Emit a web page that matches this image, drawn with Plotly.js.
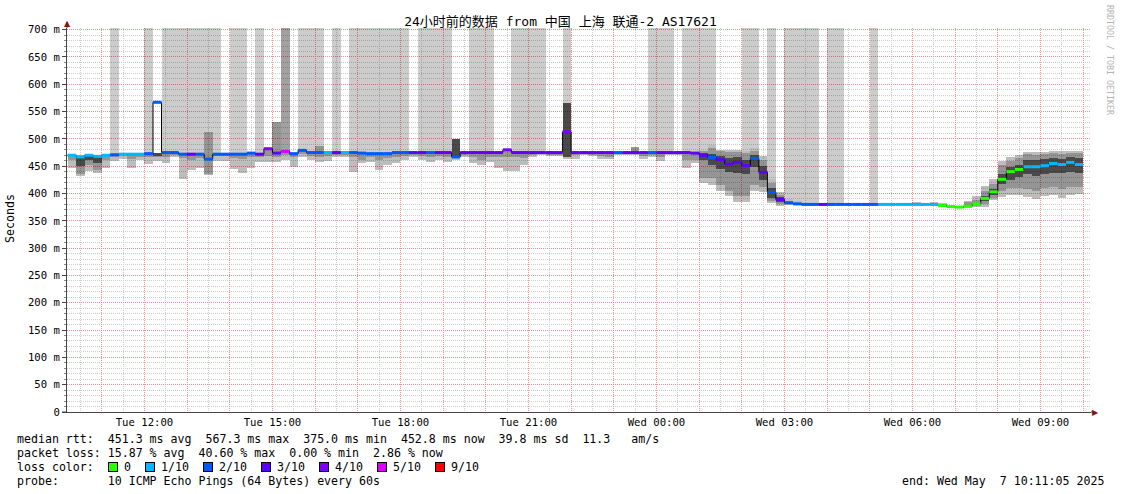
<!DOCTYPE html>
<html><head><meta charset="utf-8">
<script src="https://cdn.plot.ly/plotly-3.0.1.min.js"></script>
<style>html,body{margin:0;padding:0;background:#fff}#chart{width:1121px;height:494px}</style>
</head><body><div id="chart"></div>
<script>
// ---------------- data ----------------
const stepStartHour = 10.2;          // first RRD step starts Tue 10:12 (hours since Tue 00:00)
const stepHours = 0.2;               // 12-minute consolidation steps
const rangeStartHour = 10 + 11/60 + 5/3600;   // Tue 10:11:05
const rangeHours = 24;
const yMax = 703;

const median = [
 470,467,470,468,470,471,472,472,472,473,
 567,475,475,472,472,472,463,472,472,472,
 472,474,472,482,474,477,473,479,475,475,
 475,475,475,475,474,473,473,473,475,475,
 475,475,475,475,475,467,475,475,475,475,
 475,480,475,475,475,475,475,475,513,475,
 475,475,475,475,475,475,475,475,475,475,
 475,475,475,474,470,466,462,454,457,451,
 464,439,402,389,383,381,380,380,380,380,
 380,380,380,380,380,380,380,380,380,380,
 380,380,378,376,375,377,381,391,403,426,
 440,444,449,449,451,455,453,457,453];

const lossCount = [
 1,1,1,1,1,2,1,1,1,2,
 2,2,2,2,3,2,2,2,2,2,
 2,2,3,4,3,5,2,2,2,2,
 1,3,1,2,2,2,2,2,2,2,
 3,3,2,3,3,2,3,3,3,3,
 3,4,3,3,3,3,3,3,4,3,
 3,3,3,3,2,3,3,3,2,3,
 3,3,3,3,3,2,3,3,3,3,
 2,3,2,3,2,2,2,2,3,2,
 2,2,2,2,2,1,1,1,1,1,
 1,1,0,0,0,0,0,0,0,0,
 0,0,1,1,1,1,1,1,1];

// 1 = lost pings drawn up to the top, 2 = heavier loss (darker)
const fullBar = [
 0,0,0,0,0,1,0,0,0,1,
 0,1,1,1,1,1,1,1,0,1,
 1,0,1,0,0,2,0,1,1,1,
 0,1,0,1,1,1,1,1,1,1,
 0,1,1,1,1,0,0,1,1,1,
 0,0,1,1,1,1,0,0,1,0,
 0,0,0,0,0,0,0,0,1,1,
 1,0,1,1,1,1,0,0,0,1,
 1,0,1,0,1,1,1,1,0,1,
 1,0,0,0,1,0,0,0,0,0,
 0,0,0,0,0,0,0,0,0,0,
 0,0,0,0,0,0,0,0,0];

const smokeLo = [
 446,432,441,437,446,460,464,447,461,454,
 460,455,467,426,443,447,434,460,460,444,
 437,446,458,458,458,462,449,467,461,458,
 459,467,467,440,455,458,443,452,455,462,
 467,461,458,462,458,462,467,455,453,458,
 447,442,442,452,467,470,469,469,464,464,
 470,469,463,463,470,470,470,463,466,460,
 470,470,446,455,420,415,404,395,384,384,
 404,403,382,378,379,379,379,379,379,379,
 379,379,379,379,379,379,379,379,379,379,
 379,378,376,374,374,374,375,376,388,393,
 398,398,393,390,395,398,392,398,400];

const smokeHi = [
 471,470,471,470,471,472,473,473,473,474,
 475,476,476,473,473,473,512,473,473,473,
 473,475,473,482,531,478,474,480,476,487,
 476,476,476,476,475,474,474,474,476,476,
 476,476,476,476,476,500,476,476,476,476,
 476,482,476,476,476,476,476,476,566,476,
 476,476,476,476,476,476,485,476,476,476,
 476,476,476,475,478,489,480,480,480,478,
 483,468,426,402,390,386,383,383,381,381,
 381,381,381,381,381,381,381,381,381,384,
 381,384,382,378,377,387,395,413,427,460,
 466,470,476,476,476,478,477,478,478];

const midLo = [
 461,436,452,443,462,466,468,463,467,466,
 466,467,470,465,462,465,435,468,468,465,
 463,466,467,468,466,470,466,472,468,467,
 468,471,471,467,462,466,462,465,466,468,
 470,468,467,469,467,465,470,466,462,467,
 466,466,466,465,471,472,471,471,466,470,
 472,470,468,466,472,472,472,468,470,466,
 472,472,462,462,428,428,415,405,395,395,
 415,412,386,380,380,380,380,380,380,380,
 380,380,380,380,380,380,380,380,380,380,
 380,379,377,375,374,375,377,381,392,405,
 410,410,408,405,410,412,408,412,412];

const midHi = [
 470,468,470,468,470,471,472,472,472,473,
 475,475,475,472,472,472,512,472,472,472,
 472,474,472,482,531,477,473,479,475,487,
 475,475,475,475,474,473,473,473,475,475,
 475,475,475,475,475,500,475,475,475,475,
 475,482,475,475,475,475,475,475,566,475,
 475,475,475,475,475,475,485,475,475,475,
 475,475,475,474,477,484,477,476,476,474,
 478,462,420,398,387,383,381,381,380,380,
 380,380,380,380,380,380,380,380,380,383,
 380,383,381,377,376,384,388,405,418,452,
 460,465,472,471,472,474,473,474,474];

const coreLo = [
 null,451,462,455,null,null,null,null,null,null,
 469,null,null,null,null,null,null,null,null,null,
 null,null,null,null,null,null,null,null,null,null,
 null,null,null,null,null,null,null,null,null,null,
 null,null,null,null,null,465,null,null,null,null,
 null,null,null,null,null,null,null,null,466,null,
 null,null,null,null,null,null,null,null,null,null,
 null,null,null,null,462,452,445,440,438,435,
 448,425,392,384,null,null,null,null,null,null,
 null,null,null,null,null,null,null,null,null,null,
 null,null,null,null,null,null,null,387,398,418,
 425,430,435,432,435,437,437,440,438];

const coreHi = [
 null,468,470,467,null,null,null,null,null,null,
 475,null,null,null,null,null,null,null,null,null,
 null,null,null,null,null,null,null,null,null,null,
 null,null,null,null,null,null,null,null,null,null,
 null,null,null,null,null,500,null,null,null,null,
 null,null,null,null,null,null,null,null,566,null,
 null,null,null,null,null,null,null,null,null,null,
 null,null,null,null,474,472,468,465,466,462,
 470,450,410,393,null,null,null,null,null,null,
 null,null,null,null,null,null,null,null,null,null,
 null,null,null,null,null,null,null,395,408,436,
 448,452,462,462,463,465,464,466,465];

const tickHours  = [12, 15, 18, 21, 24, 27, 30, 33];
const tickLabels = ['Tue 12:00','Tue 15:00','Tue 18:00','Tue 21:00','Wed 00:00','Wed 03:00','Wed 06:00','Wed 09:00'];
const yTickVals  = [0,50,100,150,200,250,300,350,400,450,500,550,600,650,700];

const lossLevels = [0, 1, 2, 3, 4, 5, 9];
const lossLabels = ['0','1/10','2/10','3/10','4/10','5/10','9/10'];
const lossColors = ['#26ff00','#00b8ff','#0059ff','#5e00ff','#7e00ff','#dd00ff','#ff0000'];

const titleText = '24小时前的数据 from 中国 上海 联通-2 AS17621';
const legendRows = [
  'median rtt:  451.3 ms avg  567.3 ms max  375.0 ms min  452.8 ms now  39.8 ms sd  11.3   am/s',
  'packet loss: 15.87 % avg  40.60 % max  0.00 % min  2.86 % now',
  'loss color:',
  'probe:       10 ICMP Echo Pings (64 Bytes) every 60s'
];
const endText = 'end: Wed May  7 10:11:05 2025';

// ---------------- build ----------------
const MONO = 'DejaVu Sans Mono, monospace';
const N = median.length;
const tStart = median.map((_, i) => stepStartHour + i * stepHours);
const tMid = tStart.map(t => t + stepHours / 2);

function band(lo, hi, color) {
  const xs = [], base = [], h = [];
  for (let i = 0; i < N; i++) {
    if (lo[i] == null || hi[i] == null || hi[i] <= lo[i]) continue;
    xs.push(tMid[i]); base.push(lo[i]); h.push(hi[i] - lo[i]);
  }
  return {type:'bar', x:xs, y:h, base:base, width:stepHours,
          marker:{color:color, line:{width:0}}, hoverinfo:'skip', showlegend:false};
}
function fullBars(level, color) {
  const xs = [], base = [], h = [];
  for (let i = 0; i < N; i++) {
    if (fullBar[i] !== level) continue;
    const b = Math.max(median[i], smokeHi[i], coreHi[i] == null ? 0 : coreHi[i]);
    xs.push(tMid[i]); base.push(b); h.push(yMax + 10 - b);
  }
  return {type:'bar', x:xs, y:h, base:base, width:stepHours,
          marker:{color:color, line:{width:0}}, hoverinfo:'skip', showlegend:false};
}

const traces = [
  fullBars(1, 'rgba(0,0,0,0.20)'),
  fullBars(2, 'rgba(0,0,0,0.37)'),
  band(smokeLo, smokeHi, 'rgba(0,0,0,0.26)'),
  band(midLo, midHi, 'rgba(0,0,0,0.21)'),
  band(coreLo, coreHi, 'rgba(0,0,0,0.50)'),
  {type:'scatter', mode:'lines', x: tStart.concat([tStart[N-1] + stepHours]),
   y: median.concat([median[N-1]]), line:{shape:'hv', color:'#000', width:1},
   hoverinfo:'skip', showlegend:false}
];
lossLevels.forEach((lv, k) => {
  const xs = [], ys = [];
  for (let i = 0; i < N; i++) {
    if (lossCount[i] !== lv) continue;
    xs.push(tStart[i], tStart[i] + stepHours, null);
    ys.push(median[i], median[i], null);
  }
  traces.push({type:'scatter', mode:'lines', x:xs, y:ys, connectgaps:false,
    line:{color:lossColors[k], width:3}, hoverinfo:'skip', showlegend:false});
});

// x grid every hour, labels every 3 hours
const hourVals = [], hourText = [];
for (let h = Math.ceil(rangeStartHour); h <= rangeStartHour + rangeHours; h++) {
  hourVals.push(h);
  const k = tickHours.indexOf(h);
  hourText.push(k >= 0 ? tickLabels[k] : '');
}

// pixel helpers for decorations (plot area: x 67..1091, y 28..412)
const PL = 67, PW = 1024, PB = 412, PH = 384;
const px = x => (x - PL) / PW;
const py = y => (PB - y) / PH;
const nb = s => s.replace(/ /g, '\u00a0');

const annotations = [];
const rowY = [438.5, 452.5, 466.5, 480.5];
legendRows.forEach((txt, r) => {
  annotations.push({xref:'paper', yref:'paper', x:px(16), y:py(rowY[r]), xanchor:'left', yanchor:'middle',
    text:nb(txt), showarrow:false, font:{family:MONO, size:11.6, color:'#000'}, borderpad:0});
});
annotations.push({xref:'paper', yref:'paper', x:px(1105), y:py(rowY[3]), xanchor:'right', yanchor:'middle',
  text:nb(endText), showarrow:false, font:{family:MONO, size:11.6, color:'#000'}, borderpad:0});
let sx = 108;
lossLabels.forEach((lab, k) => {
  annotations.push({xref:'paper', yref:'paper', x:px(sx), y:py(rowY[2]), xanchor:'left', yanchor:'middle',
    text:'\u00a0', showarrow:false, font:{family:MONO, size:6}, width:8, height:8, borderpad:0,
    bgcolor:lossColors[k], bordercolor:'#000', borderwidth:1});
  annotations.push({xref:'paper', yref:'paper', x:px(sx + 15), y:py(rowY[2]), xanchor:'left', yanchor:'middle',
    text:nb(lab), showarrow:false, font:{family:MONO, size:11.6, color:'#000'}, borderpad:0});
  sx += 16 + (lab.length + 2) * 7;
});
annotations.push({xref:'paper', yref:'paper', x:px(10), y:py(219), xanchor:'center', yanchor:'middle',
  text:'Seconds', textangle:-90, showarrow:false, font:{family:MONO, size:11.6, color:'#000'}});
annotations.push({xref:'paper', yref:'paper', x:px(1110), y:py(60), xanchor:'center', yanchor:'middle',
  text:nb('RRDTOOL / TOBI OETIKER'), textangle:90, showarrow:false, font:{family:MONO, size:8.3, color:'#b4b4b4'}});
annotations.push({xref:'paper', yref:'paper', x:px(67), y:py(23), xanchor:'center', yanchor:'middle',
  text:'▲', showarrow:false, font:{family:'DejaVu Sans', size:8, color:'#8b1010'}, borderpad:0});
annotations.push({xref:'paper', yref:'paper', x:px(1095), y:py(412), xanchor:'center', yanchor:'middle',
  text:'▶', showarrow:false, font:{family:'DejaVu Sans', size:8, color:'#8b1010'}, borderpad:0});

const shapes = [
  {type:'line', xref:'paper', yref:'paper', x0:0, x1:0, y0:1, y1:py(22), line:{color:'#444', width:1}},
  {type:'line', xref:'paper', yref:'paper', x0:1, x1:px(1093), y0:0, y1:0, line:{color:'#444', width:1}},
  {type:'line', xref:'paper', yref:'paper', x0:px(62), x1:0, y0:0, y1:0, line:{color:'#444', width:1}}
];

const GRIDDASH = '1px,1px';
const layout = {
  width:1121, height:494,
  margin:{l:67, r:30, t:28, b:82, pad:0},
  paper_bgcolor:'#fff', plot_bgcolor:'#fff',
  barmode:'overlay', bargap:0,
  showlegend:false,
  font:{family:MONO, color:'#000'},
  title:{text:titleText, font:{family:'DejaVu Sans Mono, Noto Sans CJK SC', size:13, color:'#000'},
         x:0.5, xref:'container', xanchor:'center', y:1 - 21/494, yref:'container', yanchor:'middle'},
  xaxis:{range:[rangeStartHour, rangeStartHour + rangeHours], tickmode:'array', tickvals:hourVals, ticktext:hourText,
         showgrid:true, gridcolor:'#f09090', griddash:GRIDDASH, gridwidth:1, zeroline:false,
         showline:true, linecolor:'#444', linewidth:1, ticks:'', ticklen:0,
         tickfont:{family:MONO, size:10.6, color:'#000'},
         minor:{tickmode:'linear', tick0:0.5, dtick:1, showgrid:true, gridcolor:'#cdcdcd', griddash:GRIDDASH, ticks:''},
         fixedrange:true},
  yaxis:{range:[0, yMax], tickmode:'array', tickvals:yTickVals,
         ticktext:yTickVals.map(v => v === 0 ? '0' : v + ' m'),
         showgrid:true, gridcolor:'#f09090', griddash:GRIDDASH, gridwidth:1, zeroline:false,
         showline:true, linecolor:'#444', linewidth:1, ticks:'outside', ticklen:4, tickcolor:'#444',
         tickfont:{family:MONO, size:10.6, color:'#000'},
         minor:{tickmode:'linear', tick0:0, dtick:10, showgrid:true, gridcolor:'#cdcdcd', griddash:GRIDDASH,
                ticks:'outside', ticklen:2, tickcolor:'#888'},
         fixedrange:true},
  annotations:annotations,
  shapes:shapes
};

Plotly.newPlot('chart', traces, layout, {staticPlot:true, displayModeBar:false});
</script>
</body></html>
